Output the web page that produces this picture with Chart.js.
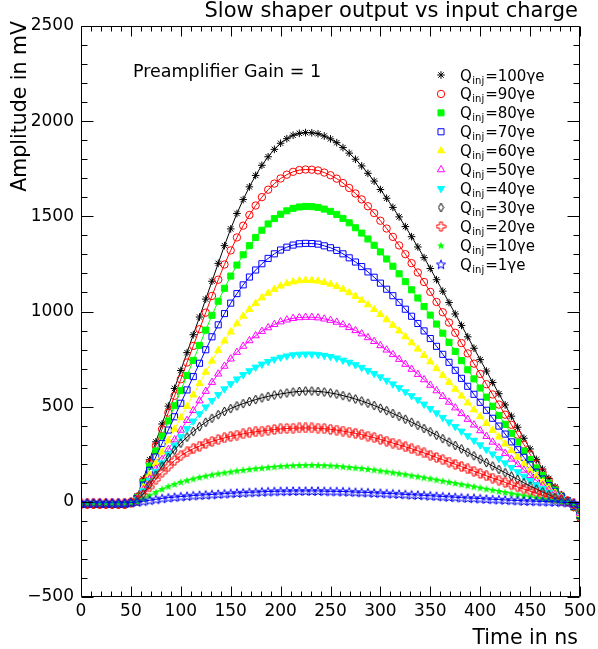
<!DOCTYPE html>
<html>
<head>
<meta charset="utf-8">
<script src="https://cdn.jsdelivr.net/npm/chart.js@4.4.1/dist/chart.umd.min.js"></script>
<style>
  html, body { margin: 0; padding: 0; background: #ffffff; }
  #wrap { width: 598px; height: 649px; position: relative; }
</style>
</head>
<body>
<div id="wrap"><canvas id="c" width="598" height="649"></canvas></div>
<script>
// Sampling times of the shaper output (ns)
const timeNs = [0, 6.25, 12.5, 18.75, 25, 31.25, 37.5, 43.75, 50, 56.25, 62.5, 68.75, 75, 81.25, 87.5, 93.75,
  100, 106.25, 112.5, 118.75, 125, 131.25, 137.5, 143.75, 150, 156.25, 162.5, 168.75, 175, 181.25, 187.5, 193.75,
  200, 206.25, 212.5, 218.75, 225, 231.25, 237.5, 243.75, 250, 256.25, 262.5, 268.75, 275, 281.25, 287.5, 293.75,
  300, 306.25, 312.5, 318.75, 325, 331.25, 337.5, 343.75, 350, 356.25, 362.5, 368.75, 375, 381.25, 387.5, 393.75,
  400, 406.25, 412.5, 418.75, 425, 431.25, 437.5, 443.75, 450, 456.25, 462.5, 468.75, 475, 481.25, 487.5, 493.75, 500];

// Injected charge of each curve (in units of gamma-equivalent)
const charges = ['100', '90', '80', '70', '60', '50', '40', '30', '20', '10', '1'];

// Amplitude (mV) for each injected charge
const q100 = [-15, -15, -15, -15, -15, -15, -15, -15, -5,
  30, 120, 221, 315, 409, 503, 596, 690, 784, 878, 971, 1065, 1159, 1253, 1346, 1434, 1515, 1588, 1655, 1715,
  1768, 1813, 1852, 1884, 1908, 1926, 1936, 1940,
  1939, 1934, 1922, 1907, 1887, 1861, 1832, 1800, 1765, 1726, 1685, 1641, 1595, 1547, 1497, 1446, 1393, 1339,
  1283, 1226, 1167, 1107, 1047, 987, 927, 867, 807, 747, 687, 627, 568, 509, 450, 392, 334, 278, 223, 172, 123,
  78, 38, 7, -30, -85];
const q90 = [-15, -15, -15, -15, -15, -15, -15, -15, -5,
  25, 110, 205, 294, 382, 469, 557, 644, 732, 819, 907, 994, 1082, 1167, 1247, 1321, 1389, 1451, 1507, 1557,
  1601, 1640, 1672, 1699, 1719, 1734, 1743, 1746,
  1745, 1741, 1730, 1716, 1698, 1675, 1649, 1620, 1589, 1553, 1517, 1477, 1436, 1392, 1347, 1301, 1254, 1205,
  1155, 1103, 1050, 996, 942, 888, 834, 780, 726, 672, 618, 564, 511, 458, 405, 353, 301, 250, 201, 155, 111,
  70, 34, 6, -28, -80];
const q80 = [-14, -14, -14, -14, -14, -14, -14, -14, -5,
  22, 100, 187, 267, 346, 425, 505, 584, 664, 743, 822, 902, 980, 1054, 1122, 1186, 1244, 1298, 1346, 1389,
  1427, 1460, 1488, 1511, 1529, 1542, 1549, 1552,
  1551, 1547, 1538, 1526, 1510, 1489, 1466, 1440, 1412, 1381, 1348, 1313, 1276, 1238, 1198, 1157, 1114, 1071,
  1026, 981, 934, 886, 838, 790, 742, 694, 646, 598, 550, 502, 454, 407, 360, 314, 267, 222, 178, 138, 98,
  62, 30, 6, -26, -75];
const q70 = [-13, -13, -13, -13, -13, -13, -13, -13, -5,
  18, 88, 166, 236, 307, 377, 447, 518, 588, 658, 728, 799, 867, 930, 989, 1044, 1094, 1140, 1181, 1218,
  1251, 1279, 1303, 1323, 1338, 1349, 1356, 1358,
  1357, 1354, 1345, 1335, 1321, 1303, 1282, 1260, 1236, 1208, 1180, 1149, 1117, 1083, 1048, 1012, 975, 937,
  898, 858, 817, 775, 733, 691, 649, 607, 565, 523, 481, 439, 398, 356, 315, 274, 234, 195, 156, 120, 86,
  55, 27, 5, -24, -70];
const q60 = [-12, -12, -12, -12, -12, -12, -12, -12, -4,
  15, 75, 142, 202, 262, 322, 382, 442, 502, 562, 622, 682, 740, 795, 845, 893, 936, 976, 1011, 1043,
  1072, 1096, 1117, 1134, 1147, 1156, 1162, 1164,
  1163, 1160, 1153, 1144, 1132, 1117, 1099, 1080, 1059, 1036, 1011, 985, 957, 928, 898, 868, 836, 803,
  770, 736, 700, 664, 628, 592, 556, 520, 484, 448, 412, 376, 341, 305, 270, 235, 200, 167, 134, 103, 74,
  47, 23, 4, -22, -65];
const q50 = [-12, -12, -12, -12, -12, -12, -12, -12, -4,
  13, 64, 121, 172, 223, 275, 326, 377, 428, 480, 531, 581, 628, 672, 713, 751, 786, 818, 847, 873,
  896, 915, 932, 946, 956, 964, 968, 970,
  970, 967, 961, 954, 944, 931, 916, 900, 883, 863, 843, 821, 798, 774, 749, 723, 697, 670,
  642, 613, 584, 554, 524, 494, 464, 434, 404, 374, 344, 314, 284, 255, 225, 196, 167, 139, 112, 86, 62,
  39, 19, 4, -20, -60];
const q40 = [-10, -10, -10, -10, -10, -10, -10, -10, -4,
  12, 58, 111, 158, 204, 251, 297, 342, 384, 424, 462, 498, 532, 563, 593, 620, 645, 668, 688, 707,
  723, 737, 749, 759, 766, 772, 775, 776,
  776, 774, 769, 763, 755, 744, 733, 720, 706, 690, 674, 656, 638, 619, 599, 578, 557, 536,
  513, 490, 467, 443, 419, 395, 371, 347, 323, 299, 275, 251, 227, 204, 180, 157, 134, 111, 89, 69, 49,
  31, 15, 3, -17, -55];
const q30 = [-9, -9, -9, -9, -9, -9, -9, -9, -3,
  8, 42, 90, 140, 188, 232, 272, 308, 340, 369, 395, 418, 439, 458, 475, 490, 504, 516, 527, 537,
  546, 554, 561, 567, 572, 577, 580, 582,
  582, 580, 577, 572, 566, 558, 550, 540, 530, 518, 506, 492, 479, 464, 449, 434, 418, 402,
  385, 368, 350, 332, 314, 296, 278, 260, 242, 224, 206, 188, 170, 153, 135, 118, 100, 83, 67, 52, 37,
  23, 11, 2, -14, -45];
const q20 = [-8, -8, -8, -8, -8, -8, -8, -8, -3,
  6, 35, 78, 118, 155, 187, 217, 242, 262, 279, 293, 306, 317, 327, 336, 344, 351, 357, 363, 368,
  372, 376, 380, 383, 385, 387, 388, 388,
  388, 387, 384, 381, 377, 372, 366, 360, 353, 345, 337, 328, 319, 309, 299, 289, 279, 268,
  257, 245, 233, 221, 209, 197, 185, 173, 161, 149, 137, 125, 114, 102, 90, 78, 67, 56, 45, 34, 25,
  16, 8, 1, -10, -35];
const q10 = [-6, -6, -6, -6, -6, -6, -6, -6, -2,
  3, 16, 34, 52, 68, 82, 94, 105, 114, 122, 130, 137, 143, 149, 154, 159, 164, 168, 172, 176,
  179, 182, 185, 188, 190, 192, 193, 194,
  194, 193, 192, 191, 189, 186, 183, 180, 177, 173, 169, 164, 160, 155, 150, 145, 139, 134,
  128, 123, 117, 111, 105, 99, 93, 87, 81, 75, 69, 63, 57, 51, 45, 39, 33, 28, 22, 17, 12,
  8, 4, 1, -6, -25];
const q1 = [-5, -5, -5, -5, -5, -5, -5, -5, -4,
  -1, 3, 8, 13, 18, 22, 25, 28, 30, 33, 35, 37, 39, 41, 43, 45, 47, 48, 50, 51,
  53, 54, 55, 56, 56, 57, 57, 57,
  57, 57, 56, 55, 55, 54, 53, 51, 50, 49, 47, 46, 44, 43, 41, 39, 37, 36,
  34, 32, 30, 28, 26, 24, 22, 20, 19, 17, 15, 13, 12, 10, 8, 7, 5, 4, 3, 2, 1,
  0, -2, -4, -7, -12];

const amplitudes = [q100, q90, q80, q70, q60, q50, q40, q30, q20, q10, q1];

// Axis ranges and tick spacing
const xRange = [0, 500];
const yRange = [-500, 2500];
const xLabelStep = 50, xMinorStep = 10;
const yLabelStep = 500, yMinorStep = 100;

// ---------- marker glyphs not provided by Chart.js ----------
function glyph(w, h, paint) {
  const c = document.createElement('canvas');
  c.width = w; c.height = h;
  const g = c.getContext('2d');
  paint(g, w / 2, h / 2);
  return c;
}
function starPath(g, cx, cy, ro, ri) {
  g.beginPath();
  for (let k = 0; k < 10; k++) {
    const r = k % 2 ? ri : ro;
    const ang = -Math.PI / 2 + k * Math.PI / 5;
    const px = cx + r * Math.cos(ang), py = cy + r * Math.sin(ang);
    if (k === 0) g.moveTo(px, py); else g.lineTo(px, py);
  }
  g.closePath();
}
const openCross = glyph(11, 11, (g, cx, cy) => {
  const a = 1.5, l = 4.5;
  g.strokeStyle = '#ff0000'; g.lineWidth = 1;
  g.beginPath();
  g.moveTo(cx - a, cy - l); g.lineTo(cx + a, cy - l); g.lineTo(cx + a, cy - a); g.lineTo(cx + l, cy - a);
  g.lineTo(cx + l, cy + a); g.lineTo(cx + a, cy + a); g.lineTo(cx + a, cy + l); g.lineTo(cx - a, cy + l);
  g.lineTo(cx - a, cy + a); g.lineTo(cx - l, cy + a); g.lineTo(cx - l, cy - a); g.lineTo(cx - a, cy - a);
  g.closePath(); g.stroke();
});
const filledStar = glyph(10, 10, (g, cx, cy) => {
  g.fillStyle = '#00ff00';
  starPath(g, cx, cy + 0.5, 4.2, 1.7); g.fill();
});
const openStar = glyph(12, 12, (g, cx, cy) => {
  g.strokeStyle = '#0000ff'; g.lineWidth = 1;
  starPath(g, cx, cy + 0.5, 4.8, 2.0); g.stroke();
});
const thinDiamond = glyph(7, 11, (g, cx, cy) => {
  g.strokeStyle = '#000000'; g.lineWidth = 1;
  g.beginPath();
  g.moveTo(cx, cy - 4.5); g.lineTo(cx + 2.5, cy); g.lineTo(cx, cy + 4.5); g.lineTo(cx - 2.5, cy);
  g.closePath(); g.stroke();
});

// Styling for each curve, in the same order as `charges`
const NONE = 'rgba(0,0,0,0)';
const curveStyles = [
  { color: '#000000', pointStyle: 'star',     radius: 3.8, fill: NONE,      rotation: 0 },
  { color: '#ff0000', pointStyle: 'circle',   radius: 3.7, fill: NONE,      rotation: 0 },
  { color: '#00ff00', pointStyle: 'rect',     radius: 4.3, fill: '#00ff00', rotation: 0 },
  { color: '#0000ff', pointStyle: 'rect',     radius: 4.3, fill: NONE,      rotation: 0 },
  { color: '#ffff00', pointStyle: 'triangle', radius: 4.2, fill: '#ffff00', rotation: 0 },
  { color: '#ff00ff', pointStyle: 'triangle', radius: 4.2, fill: NONE,      rotation: 0 },
  { color: '#00ffff', pointStyle: 'triangle', radius: 4.2, fill: '#00ffff', rotation: 180 },
  { color: '#000000', pointStyle: thinDiamond, radius: 4, fill: NONE,     rotation: 0 },
  { color: '#ff0000', pointStyle: openCross,   radius: 4, fill: NONE,     rotation: 0 },
  { color: '#00ff00', pointStyle: filledStar,  radius: 4, fill: NONE,     rotation: 0 },
  { color: '#0000ff', pointStyle: openStar,    radius: 4, fill: NONE,     rotation: 0 }
];

const datasets = charges.map((q, i) => ({
  label: 'Q_inj=' + q + '\u03B3e',
  data: timeNs.map((t, k) => ({ x: t, y: amplitudes[i][k] })),
  borderColor: curveStyles[i].color,
  borderWidth: 1,
  pointStyle: curveStyles[i].pointStyle,
  pointRadius: curveStyles[i].radius,
  pointRotation: curveStyles[i].rotation,
  pointBorderColor: curveStyles[i].color,
  pointBackgroundColor: curveStyles[i].fill,
  pointBorderWidth: 1,
  tension: 0,
  fill: false,
  clip: 0,
  order: -i
}));

const FONT = '"DejaVu Sans", sans-serif';

// Frame with inward ticks on all four sides
const frameTicks = {
  id: 'frameTicks',
  afterDatasetsDraw(chart) {
    const { ctx, chartArea: a } = chart;
    const xs = chart.scales.x, ys = chart.scales.y;
    const L = Math.round(a.left) + 0.5, R = Math.round(a.right) - 0.5;
    const T = Math.round(a.top) + 0.5, B = Math.round(a.bottom) - 0.5;
    ctx.save();
    ctx.strokeStyle = '#000000';
    ctx.lineWidth = 1;
    ctx.beginPath();
    ctx.moveTo(L, T); ctx.lineTo(R, T); ctx.lineTo(R, B); ctx.lineTo(L, B); ctx.closePath();
    for (let v = xRange[0]; v <= xRange[1]; v += xMinorStep) {
      const px = Math.round(xs.getPixelForValue(v)) + 0.5;
      const len = v % xLabelStep === 0 ? 10 : 5;
      ctx.moveTo(px, B); ctx.lineTo(px, B - len);
      ctx.moveTo(px, T); ctx.lineTo(px, T + len);
    }
    for (let v = yRange[0]; v <= yRange[1]; v += yMinorStep) {
      const py = Math.round(ys.getPixelForValue(v)) + 0.5;
      const len = v % yLabelStep === 0 ? 12 : 6;
      ctx.moveTo(L, py); ctx.lineTo(L + len, py);
      ctx.moveTo(R, py); ctx.lineTo(R - len, py);
    }
    ctx.stroke();
    ctx.restore();
  }
};

// Titles, annotation and the legend with subscripted labels
const annotations = {
  id: 'annotations',
  afterDraw(chart) {
    const ctx = chart.ctx;
    ctx.save();
    ctx.fillStyle = '#000000';
    ctx.textBaseline = 'alphabetic';

    ctx.font = '21px ' + FONT;
    ctx.textAlign = 'right';
    ctx.fillText('Slow shaper output vs input charge', 578, 17);

    ctx.font = '20.5px ' + FONT;
    ctx.fillText('Time in ns', 578, 644);

    ctx.save();
    ctx.translate(26, 21);
    ctx.rotate(-Math.PI / 2);
    ctx.textAlign = 'right';
    ctx.fillText('Amplitude in mV', 0, 0);
    ctx.restore();

    ctx.textAlign = 'left';
    ctx.font = '17.5px ' + FONT;
    ctx.fillText('Preamplifier Gain = 1', 133, 76.5);

    // legend
    const rowY0 = 75, rowStep = 18.93, markX = 441, textX = 460;
    chart.data.datasets.forEach((ds, i) => {
      const y = rowY0 + i * rowStep;
      const st = curveStyles[i];
      ctx.save();
      ctx.strokeStyle = st.color;
      ctx.fillStyle = st.fill;
      ctx.lineWidth = 1;
      Chart.helpers.drawPoint(ctx, { pointStyle: st.pointStyle, rotation: st.rotation, radius: st.radius, borderWidth: 1 }, markX, y);
      ctx.restore();

      const base = y + 5.5;
      ctx.fillStyle = '#000000';
      ctx.font = '15px ' + FONT;
      ctx.fillText('Q', textX, base);
      let w = ctx.measureText('Q').width;
      ctx.font = '10px ' + FONT;
      ctx.fillText('inj', textX + w + 0.5, base + 3);
      w += ctx.measureText('inj').width + 1.5;
      ctx.font = '15px ' + FONT;
      ctx.fillText('=' + charges[i] + '\u03B3e', textX + w, base);
    });
    ctx.restore();
  }
};

const minusSign = v => (v < 0 ? '\u2212' + Math.abs(v) : String(v));

new Chart(document.getElementById('c'), {
  type: 'line',
  data: { datasets },
  options: {
    responsive: false,
    devicePixelRatio: 1,
    animation: false,
    events: [],
    layout: { padding: { left: 0, right: 18, top: 26, bottom: 0 } },
    plugins: { legend: { display: false }, tooltip: { enabled: false }, title: { display: false } },
    scales: {
      x: {
        type: 'linear', min: xRange[0], max: xRange[1],
        grid: { display: false, drawTicks: false },
        border: { display: false },
        ticks: {
          stepSize: xLabelStep, autoSkip: false, maxRotation: 0, padding: 4,
          color: '#000000', font: { family: FONT, size: 17 }, callback: minusSign
        },
        afterFit(s) { s.height = 52; s.paddingLeft = 0; s.paddingRight = 0; }
      },
      y: {
        type: 'linear', min: yRange[0], max: yRange[1],
        grid: { display: false, drawTicks: false },
        border: { display: false },
        ticks: {
          stepSize: yLabelStep, autoSkip: false, padding: 7,
          color: '#000000', font: { family: FONT, size: 17 }, callback: minusSign
        },
        afterFit(s) { s.width = 81; s.paddingTop = 0; s.paddingBottom = 0; }
      }
    }
  },
  plugins: [frameTicks, annotations]
});
</script>
</body>
</html>
